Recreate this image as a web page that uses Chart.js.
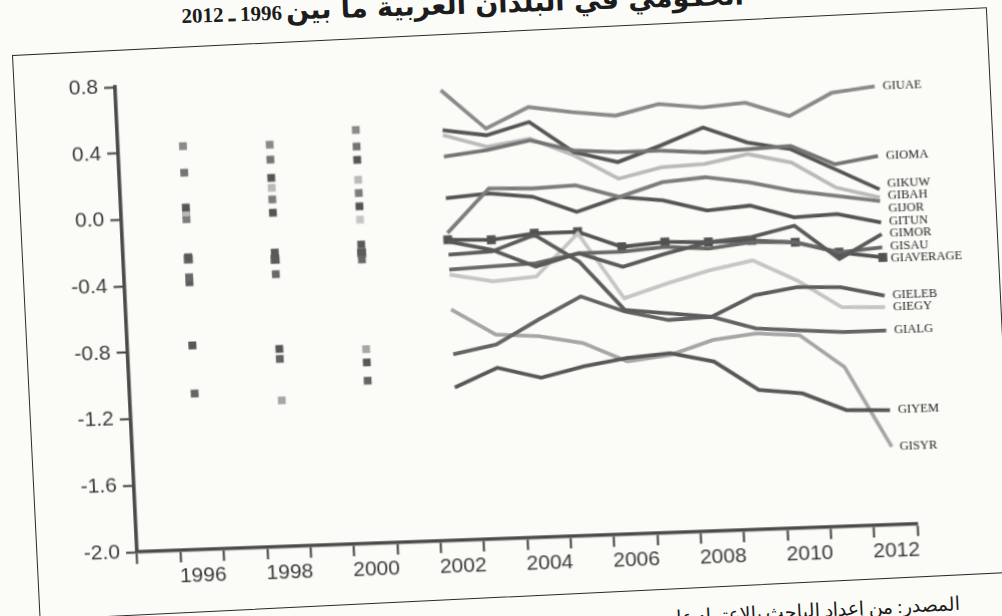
<!DOCTYPE html>
<html>
<head>
<meta charset="utf-8">
<script src="https://cdn.jsdelivr.net/npm/chart.js@4.4.1/dist/chart.umd.min.js"></script>
<style>
  html, body { margin: 0; padding: 0; width: 1002px; height: 616px; overflow: hidden; background: #fbfbf7; }
  #wrap { position: absolute; left: 0; top: 0; width: 1002px; height: 616px;
          transform: matrix(1, -0.0359, 0.0471, 0.9957, -14.2, 22.8); transform-origin: 0 0; }
  #frame { position: absolute; left: 12px; top: 55px; width: 976px; height: 566px;
           border: 1.6px solid #2a2a2a; box-sizing: border-box;
           transform: rotate(-2.8deg); transform-origin: 0 0; }
  .cap { position: absolute; white-space: nowrap; direction: rtl; color: #1c1c1c;
         font-family: "Liberation Serif", "DejaVu Serif", serif; }
  #title { left: 182px; top: 2px; line-height: 24px; font-weight: bold;
           transform: rotate(-1.9deg); transform-origin: 0 100%; }
  #title .ar { font-size: 27px; font-family: "DejaVu Sans", "Noto Sans", sans-serif; }
  #title .num { font-size: 21px; }
  #source { right: 42px; top: 592px; font-size: 19px;
            transform: rotate(-2.8deg); transform-origin: 100% 100%; }
</style>
</head>
<body>
<div id="frame"></div>
<div id="title" class="cap"><span class="ar">الحكومي في البلدان العربية ما بين</span> <span class="num">1996 ـ 2012</span></div>
<div id="source" class="cap">المصدر: من إعداد الباحث بالاعتماد على</div>
<div id="wrap"><canvas id="c" width="1002" height="616"></canvas></div>
<script>
// Years on the category axis (1995 is an empty slot before the first observation)
const years = ['1995','1996','1997','1998','1999','2000','2001','2002','2003','2004',
               '2005','2006','2007','2008','2009','2010','2011','2012'];

// Governance indicator by country; survey was biennial before 2002
const GIUAE     = [null, 0.43, null, 0.42, null, 0.49, null, 0.71, 0.47, 0.59, 0.55, 0.52, 0.58, 0.55, 0.57, 0.48, 0.61, 0.64];
const GIOMA     = [null, 0.27, null, 0.33, null, 0.39, null, 0.31, 0.34, 0.39, 0.32, 0.30, 0.30, 0.28, 0.29, 0.30, 0.18, 0.22];
const GIKUW     = [null, 0.06, null, 0.22, null, 0.31, null, 0.47, 0.43, 0.50, 0.31, 0.24, 0.33, 0.43, 0.33, 0.28, 0.15, 0.02];
const GIBAH     = [null, 0.03, null, 0.16, null, 0.19, null, 0.44, 0.36, 0.40, 0.29, 0.14, 0.20, 0.21, 0.26, 0.20, 0.04, -0.03];
const GIJOR     = [null, -0.01, null, 0.09, null, 0.11, null, -0.15, 0.11, 0.10, 0.11, 0.03, 0.11, 0.13, 0.09, 0.03, -0.01, -0.05];
const GITUN     = [null, 0.02, null, 0.01, null, 0.03, null, 0.06, 0.08, 0.05, -0.05, 0.03, 0.00, -0.07, -0.05, -0.13, -0.12, -0.18];
const GIMOR     = [null, -0.24, null, -0.23, null, -0.20, null, -0.20, -0.26, -0.37, -0.30, -0.39, -0.32, -0.26, -0.24, -0.18, -0.39, -0.25];
const GISAU     = [null, -0.36, null, -0.36, null, -0.29, null, -0.37, -0.36, -0.35, -0.30, -0.30, -0.28, -0.30, -0.27, -0.28, -0.35, -0.33];
const GIAVERAGE = [null, -0.25, null, -0.27, null, -0.25, null, -0.19, -0.20, -0.17, -0.17, -0.27, -0.25, -0.26, -0.26, -0.28, -0.35, -0.39];
const GIELEB    = [null, -0.39, null, -0.27, null, -0.25, null, -0.28, -0.27, -0.18, -0.35, -0.65, -0.68, -0.71, -0.59, -0.55, -0.56, -0.62];
const GIEGY     = [null, -0.24, null, -0.23, null, -0.05, null, -0.40, -0.45, -0.43, -0.18, -0.58, -0.50, -0.43, -0.38, -0.51, -0.68, -0.69];
const GIALG     = [null, -1.06, null, -0.87, null, -1.02, null, -0.88, -0.83, -0.69, -0.56, -0.66, -0.72, -0.71, -0.79, -0.81, -0.83, -0.83];
const GIYEM     = [null, -0.77, null, -0.81, null, -0.91, null, -1.08, -0.97, -1.04, -0.98, -0.94, -0.92, -0.98, -1.16, -1.19, -1.30, -1.31];
const GISYR     = [null, -0.77, null, -1.12, null, -0.83, null, -0.61, -0.77, -0.79, -0.84, -0.96, -0.93, -0.85, -0.82, -0.84, -1.04, -1.53];

const yTicks = { min: -2.0, max: 0.8, step: 0.4 };

// Series drawn in this order, each with its grey shade
const series = [
  { name: 'GIUAE',     data: GIUAE,     color: '#8a8a8a' },
  { name: 'GIOMA',     data: GIOMA,     color: '#747474' },
  { name: 'GIKUW',     data: GIKUW,     color: '#555555' },
  { name: 'GIBAH',     data: GIBAH,     color: '#bababa' },
  { name: 'GIJOR',     data: GIJOR,     color: '#7c7c7c' },
  { name: 'GITUN',     data: GITUN,     color: '#545454' },
  { name: 'GIMOR',     data: GIMOR,     color: '#595959' },
  { name: 'GISAU',     data: GISAU,     color: '#686868' },
  { name: 'GIELEB',    data: GIELEB,    color: '#5c5c5c' },
  { name: 'GIEGY',     data: GIEGY,     color: '#c6c6c6' },
  { name: 'GIALG',     data: GIALG,     color: '#646464' },
  { name: 'GIYEM',     data: GIYEM,     color: '#575757' },
  { name: 'GISYR',     data: GISYR,     color: '#a6a6a6' },
  { name: 'GIAVERAGE', data: GIAVERAGE, color: '#525252', marked: true }
];

const tickFont = { family: '"Liberation Sans Narrow", "Liberation Sans", sans-serif', size: 21 };

// An observation with no neighbour on either side is shown as a small square
function isolated(data, i) {
  const prev = i > 0 ? data[i - 1] : null;
  const next = i < data.length - 1 ? data[i + 1] : null;
  return data[i] !== null && prev === null && next === null;
}

const datasets = series.map(s => ({
  label: s.name,
  data: s.data,
  borderColor: s.color,
  backgroundColor: s.color,
  borderWidth: 3.8,
  tension: 0,
  spanGaps: false,
  pointStyle: 'rect',
  pointBorderWidth: 0,
  pointRadius: ctx => s.marked ? 6.3 : (isolated(s.data, ctx.dataIndex) ? 5.5 : 0),
  pointBackgroundColor: s.color
}));

// Series names written at the end of each line, spread so they do not overlap
const endLabels = {
  id: 'endLabels',
  afterDatasetsDraw(chart) {
    const { ctx, scales: { x, y } } = chart;
    const gap = 12.5;
    const items = chart.data.datasets.map(ds => {
      const last = ds.data.length - 1;
      return { name: ds.label, x: x.getPixelForValue(last), y: y.getPixelForValue(ds.data[last]) };
    }).sort((a, b) => a.y - b.y);
    let groups = items.map(it => ({ items: [it], center: it.y }));
    let merged = true;
    while (merged) {
      merged = false;
      for (let i = 0; i < groups.length - 1; i++) {
        const g = groups[i], h = groups[i + 1];
        const gBottom = g.center + (g.items.length - 1) * gap / 2;
        const hTop = h.center - (h.items.length - 1) * gap / 2;
        if (hTop - gBottom < gap) {
          const all = g.items.concat(h.items);
          const center = all.reduce((s, it) => s + it.y, 0) / all.length;
          groups.splice(i, 2, { items: all, center });
          merged = true;
          break;
        }
      }
    }
    ctx.save();
    ctx.font = '12.5px "Liberation Serif", "DejaVu Serif", serif';
    ctx.fillStyle = '#222';
    ctx.textBaseline = 'middle';
    groups.forEach(g => {
      const top = g.center - (g.items.length - 1) * gap / 2;
      g.items.forEach((it, k) => ctx.fillText(it.name, it.x + 8, top + k * gap));
    });
    ctx.restore();
  }
};

new Chart(document.getElementById('c'), {
  type: 'line',
  data: { labels: years, datasets },
  options: {
    responsive: false,
    animation: false,
    devicePixelRatio: 1,
    layout: { padding: { left: 0, top: 69, right: 96, bottom: 0 } },
    plugins: { legend: { display: false }, tooltip: { enabled: false } },
    scales: {
      x: {
        type: 'category',
        offset: true,
        grid: { offset: true, drawOnChartArea: false, drawTicks: true, tickLength: 12,
                tickWidth: 2, tickColor: '#3c3c3c' },
        border: { display: true, color: '#4a4a4a', width: 3.6 },
        ticks: {
          autoSkip: false, maxRotation: 0, padding: 2, color: '#3a3a3a', font: tickFont,
          callback(v) { const l = this.getLabelForValue(v); return (+l % 2 === 0) ? l : ''; }
        },
        afterFit(s) { s.height = 80; }
      },
      y: {
        min: yTicks.min, max: yTicks.max,
        grid: { drawOnChartArea: false, drawTicks: true, tickLength: 11, tickWidth: 2, tickColor: '#3c3c3c' },
        border: { display: true, color: '#4a4a4a', width: 3.6 },
        ticks: {
          stepSize: yTicks.step, padding: 6, color: '#3a3a3a', font: tickFont,
          callback: v => Math.abs(v) < 1e-9 ? '0.0' : v.toFixed(1)
        },
        afterFit(s) { s.width = 126; }
      }
    }
  },
  plugins: [endLabels]
});
</script>
</body>
</html>
